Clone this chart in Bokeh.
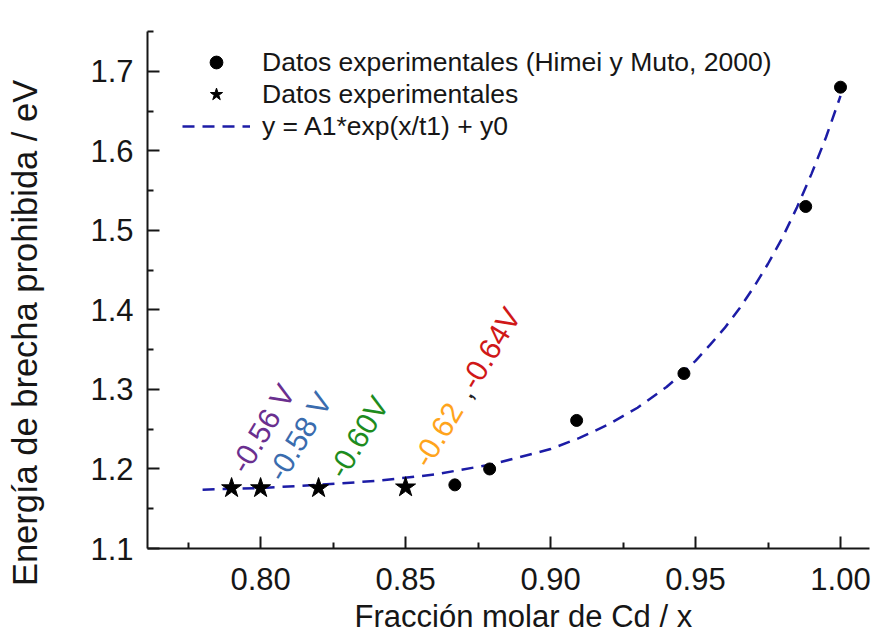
import math

from bokeh.core.properties import value
from bokeh.embed import file_html
from bokeh.models import (FixedTicker, Legend, LegendItem, LinearAxis, NumeralTickFormatter,
                          Range1d, Title)
from bokeh.plotting import figure
from bokeh.resources import INLINE

# Band gap reported by Himei & Muto (2000)
ref_x = [0.867, 0.879, 0.909, 0.946, 0.988, 1.000]
ref_y = [1.180, 1.200, 1.261, 1.320, 1.530, 1.680]

# Films deposited in this work
exp_x = [0.79, 0.80, 0.82, 0.85]
exp_y = [1.176, 1.176, 1.176, 1.177]

# Exponential fit y = A1*exp(x/t1) + y0, sampled along x
fit_x = [0.78, 0.80, 0.82, 0.84, 0.86, 0.88, 0.90, 0.91, 0.92, 0.93, 0.94, 0.945,
         0.95, 0.955, 0.96, 0.965, 0.97, 0.975, 0.98, 0.985, 0.99, 0.995, 1.00]
fit_y = [1.174, 1.176, 1.180, 1.185, 1.193, 1.206, 1.225, 1.239, 1.256, 1.277, 1.303, 1.319,
         1.336, 1.356, 1.377, 1.401, 1.428, 1.458, 1.491, 1.529, 1.571, 1.617, 1.669]

# Deposition potential labels, each tied to one star
pot_text = ["-0.56 V", "-0.58 V", "-0.60V", "-0.62", ",", "-0.64V"]
pot_star = [0, 1, 2, 3, 3, 3]
pot_color = ["#6a2f8f", "#3a6cae", "#1e8c1e", "#ffa41c", "#222222", "#d01818"]

x_ticks = [0.80, 0.85, 0.90, 0.95, 1.00]
x_minor = [0.775, 0.825, 0.875, 0.925, 0.975]
y_ticks = [1.1, 1.2, 1.3, 1.4, 1.5, 1.6, 1.7]
y_minor = [1.15, 1.25, 1.35, 1.45, 1.55, 1.65, 1.75]

x_title = "Fracción molar de Cd / x"
y_title = "Energía de brecha prohibida / eV"
y_title_at = 1.371   # the y title sits a little below the middle of the axis

FONT = "Liberation Sans"
INK = "#161616"

p = figure(width=876, height=637, output_backend="svg", toolbar_location=None,
           x_range=Range1d(0.761, 1.010), y_range=Range1d(1.1, 1.75),
           min_border_left=147, min_border_right=7, min_border_top=31, min_border_bottom=89)
p.outline_line_color = None
p.xgrid.visible = False
p.ygrid.visible = False
p.background_fill_color = "white"
p.border_fill_color = "white"

p.xaxis.ticker = FixedTicker(ticks=x_ticks, minor_ticks=x_minor)
p.yaxis.ticker = FixedTicker(ticks=y_ticks, minor_ticks=y_minor)
p.xaxis.formatter = NumeralTickFormatter(format="0.00")
p.yaxis.formatter = NumeralTickFormatter(format="0.0")

for ax in (p.xaxis[0], p.yaxis[0]):
    ax.axis_line_width = 2
    ax.axis_line_color = INK
    ax.major_tick_line_width = 2
    ax.minor_tick_line_width = 2
    ax.major_tick_line_color = INK
    ax.minor_tick_line_color = INK
    ax.major_tick_in = 12
    ax.major_tick_out = 0
    ax.minor_tick_in = 6
    ax.minor_tick_out = 0
    ax.major_label_text_font = FONT
    ax.major_label_text_font_size = "31px"
    ax.major_label_text_color = INK
    ax.major_label_standoff = 14
p.xaxis.major_label_standoff = 19

# x title, shifted a little to the right of the frame centre
p.add_layout(Title(text=x_title, align="left", offset=207, standoff=8,
                   text_font=FONT, text_font_size="31px", text_font_style="normal",
                   text_color=INK), "below")

# y title drawn as the single tick label of a bare outer axis
title_axis = LinearAxis(ticker=FixedTicker(ticks=[y_title_at], minor_ticks=[]),
                        major_label_overrides={y_title_at: y_title},
                        major_label_orientation="vertical",
                        axis_line_color=None, major_tick_line_color=None,
                        minor_tick_line_color=None, major_tick_in=0, major_tick_out=0,
                        minor_tick_in=0, minor_tick_out=0, major_label_standoff=43,
                        major_label_text_font=FONT, major_label_text_font_size="34.5px",
                        major_label_text_color=INK)
p.add_layout(title_axis, "left")

fit = p.line(fit_x, fit_y, line_color="#1c1ca6", line_width=2.5, line_dash="12 8")
ref = p.scatter(ref_x, ref_y, marker="circle", size=12, color="black")
exp = p.scatter(exp_x, exp_y, marker="star", size=21, color="black")

# Rotated potential labels, placed in screen offsets from their star
ang = math.radians(59)
ux, uy = math.cos(ang), -math.sin(ang)
base = [(6, -18), (14, -10), (17, -13), (15, -23), (15, -23), (15, -23)]
along = [0, 0, 0, 0, 80, 91]
for i, t in enumerate(pot_text):
    k = pot_star[i]
    dx = base[i][0] + along[i] * ux
    dy = base[i][1] + along[i] * uy
    p.text(x=[exp_x[k]], y=[exp_y[k]], text=[t], angle=ang,
           x_offset=dx, y_offset=dy,
           text_font=value(FONT), text_font_size="30px", text_color=pot_color[i],
           text_align="left", text_baseline="alphabetic")

legend = Legend(items=[
    LegendItem(label="Datos experimentales (Himei y Muto, 2000)", renderers=[ref]),
    LegendItem(label="Datos experimentales", renderers=[exp]),
    LegendItem(label="y = A1*exp(x/t1) + y0", renderers=[fit]),
], location=(35, 406))
legend.background_fill_alpha = 0
legend.border_line_color = None
legend.padding = 0
legend.margin = 0
legend.spacing = 0
legend.label_height = 32
legend.glyph_height = 32
legend.glyph_width = 68
legend.label_standoff = 12
legend.label_text_font = FONT
legend.label_text_font_size = "26.5px"
legend.label_text_color = INK
p.add_layout(legend)

open("out.html", "w").write(file_html(p, INLINE))
